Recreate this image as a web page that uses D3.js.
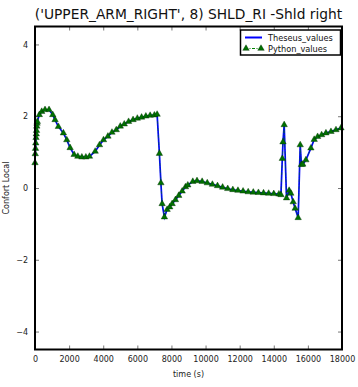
<!DOCTYPE html>
<html>
<head>
<meta charset="utf-8">
<script src="https://cdn.jsdelivr.net/npm/d3@7"></script>
<style>
  body { margin: 0; background: #fff; }
  svg { display: block; font-family: "DejaVu Sans", sans-serif; }
</style>
</head>
<body>
<svg id="chart" width="358" height="387"></svg>
<script>
// ---- data ----
const times = [0, 15, 30, 45, 60, 75, 90, 105, 120, 135, 253, 394, 588, 824, 1041, 1176, 1371, 1665, 1865, 2059, 2294, 2512, 2747, 2982, 3194, 3529, 3782, 4018, 4276, 4512, 4765, 5000, 5235, 5488, 5750, 6000, 6250, 6500, 6750, 7000, 7160, 7294, 7382, 7453, 7588, 7747, 7900, 8041, 8235, 8429, 8629, 8824, 8959, 9253, 9500, 9800, 10100, 10400, 10700, 11000, 11300, 11600, 11900, 12200, 12500, 12800, 13100, 13400, 13700, 14000, 14300, 14420, 14500, 14540, 14610, 14747, 14900, 15000, 15137, 15253, 15430, 15550, 15620, 15700, 15882, 16176, 16371, 16571, 16806, 17059, 17353, 17647, 17941];
const theseusValues = [0.7, 0.95, 1.1, 1.25, 1.4, 1.5, 1.6, 1.72, 1.8, 1.85, 2.04, 2.13, 2.18, 2.18, 2.04, 1.90, 1.71, 1.53, 1.34, 1.12, 0.93, 0.88, 0.86, 0.86, 0.88, 1.02, 1.20, 1.34, 1.44, 1.55, 1.62, 1.72, 1.78, 1.85, 1.90, 1.94, 1.97, 2.00, 2.02, 2.03, 2.05, 0.96, 0.14, -0.44, -0.81, -0.60, -0.53, -0.44, -0.33, -0.21, -0.09, 0.03, 0.08, 0.18, 0.20, 0.18, 0.14, 0.10, 0.06, 0.02, -0.02, -0.05, -0.07, -0.09, -0.11, -0.12, -0.13, -0.14, -0.15, -0.16, -0.17, -0.19, 0.82, 1.28, 1.76, -0.28, -0.07, -0.15, -0.39, -0.57, -0.83, 1.20, 0.65, 0.66, 0.78, 1.11, 1.35, 1.43, 1.48, 1.53, 1.57, 1.62, 1.67];
const pythonValues = theseusValues.slice();
const xTicks = [0, 2000, 4000, 6000, 8000, 10000, 12000, 14000, 16000, 18000];
const yTicks = [-4, -2, 0, 2, 4];
const seriesNames = ["Theseus_values", "Python_values"];
const titleText = "('UPPER_ARM_RIGHT', 8) SHLD_RI -Shld right";
const xLabel = "time (s)";
const yLabel = "Confort Local";

// ---- layout ----
const L = 35, R = 342, T = 26.5, B = 349.5;
const svg = d3.select("#chart");
const x = d3.scaleLinear().domain([0, 18000]).range([L, R]);
const y = d3.scaleLinear().domain([-4.5, 4.5]).range([B, T]);

// ticks (inward) on all sides
const tickLen = 4;
const axB = d3.axisBottom(x).tickValues(xTicks).tickSizeInner(-tickLen).tickSizeOuter(0).tickPadding(7).tickFormat(d3.format("d"));
const axT = d3.axisTop(x).tickValues(xTicks).tickSizeInner(-tickLen).tickSizeOuter(0).tickFormat("");
const axLft = d3.axisLeft(y).tickValues(yTicks).tickSizeInner(-tickLen).tickSizeOuter(0).tickPadding(7).tickFormat(d => d < 0 ? "\u2212" + Math.abs(d) : d);
const axRgt = d3.axisRight(y).tickValues(yTicks).tickSizeInner(-tickLen).tickSizeOuter(0).tickFormat("");

function styleAxis(g) {
  g.select(".domain").remove();
  g.selectAll(".tick line").attr("stroke", "#555").attr("stroke-width", 0.8);
  g.selectAll(".tick text").attr("font-size", 8).attr("fill", "#222").attr("font-family", "DejaVu Sans, sans-serif");
}
svg.append("g").attr("transform", `translate(0,${B})`).call(axB).call(styleAxis);
svg.append("g").attr("transform", `translate(0,${T})`).call(axT).call(styleAxis);
svg.append("g").attr("transform", `translate(${L},0)`).call(axLft).call(styleAxis);
svg.append("g").attr("transform", `translate(${R},0)`).call(axRgt).call(styleAxis);

// data
const pts = times.map((t, i) => ({t, a: theseusValues[i], b: pythonValues[i]}));
const lineA = d3.line().x(d => x(d.t)).y(d => y(d.a));
const lineB = d3.line().x(d => x(d.t)).y(d => y(d.b));
svg.append("path").attr("d", lineA(pts)).attr("fill", "none").attr("stroke", "#0000ff").attr("stroke-width", 1.7);
svg.append("path").attr("d", lineB(pts)).attr("fill", "none").attr("stroke", "#008000").attr("stroke-width", 0.5).attr("stroke-dasharray", "3,1.5,1,1.5");
const tri = d3.symbol().type(d3.symbolTriangle).size(18);
svg.append("g").selectAll("path").data(pts).join("path")
  .attr("d", tri)
  .attr("transform", d => `translate(${x(d.t)},${y(d.b)})`)
  .attr("fill", "#007000").attr("stroke", "#003000").attr("stroke-width", 0.4);

// frame
svg.append("rect").attr("x", L).attr("y", T).attr("width", R - L).attr("height", B - T)
  .attr("fill", "none").attr("stroke", "#000").attr("stroke-width", 2);

// title and labels
svg.append("text").attr("x", (L + R) / 2).attr("y", 18.5).attr("text-anchor", "middle")
  .attr("font-size", 13.8).attr("fill", "#111").text(titleText);
svg.append("text").attr("x", (L + R) / 2).attr("y", 377).attr("text-anchor", "middle")
  .attr("font-size", 8).attr("fill", "#222").text(xLabel);
svg.append("text").attr("transform", `translate(9,${(T + B) / 2}) rotate(-90)`).attr("text-anchor", "middle")
  .attr("font-size", 8).attr("fill", "#222").text(yLabel);

// legend
const lg = svg.append("g");
lg.append("rect").attr("x", 240.5).attr("y", 30).attr("width", 100).attr("height", 25)
  .attr("fill", "#fff").attr("stroke", "#000").attr("stroke-width", 1.5);
lg.append("line").attr("x1", 245).attr("x2", 262).attr("y1", 37.5).attr("y2", 37.5)
  .attr("stroke", "#0000ff").attr("stroke-width", 2);
lg.append("line").attr("x1", 245).attr("x2", 262).attr("y1", 48.5).attr("y2", 48.5)
  .attr("stroke", "#008000").attr("stroke-width", 1).attr("stroke-dasharray", "3,1.5,1,1.5");
[246, 261].forEach(px => {
  lg.append("path").attr("d", tri).attr("transform", `translate(${px},48.5)`)
    .attr("fill", "#007000").attr("stroke", "#003000").attr("stroke-width", 0.4);
});
lg.append("text").attr("x", 268).attr("y", 40.5).attr("font-size", 8.2).attr("fill", "#111").text(seriesNames[0]);
lg.append("text").attr("x", 268).attr("y", 51.5).attr("font-size", 8.2).attr("fill", "#111").text(seriesNames[1]);
</script>
</body>
</html>
